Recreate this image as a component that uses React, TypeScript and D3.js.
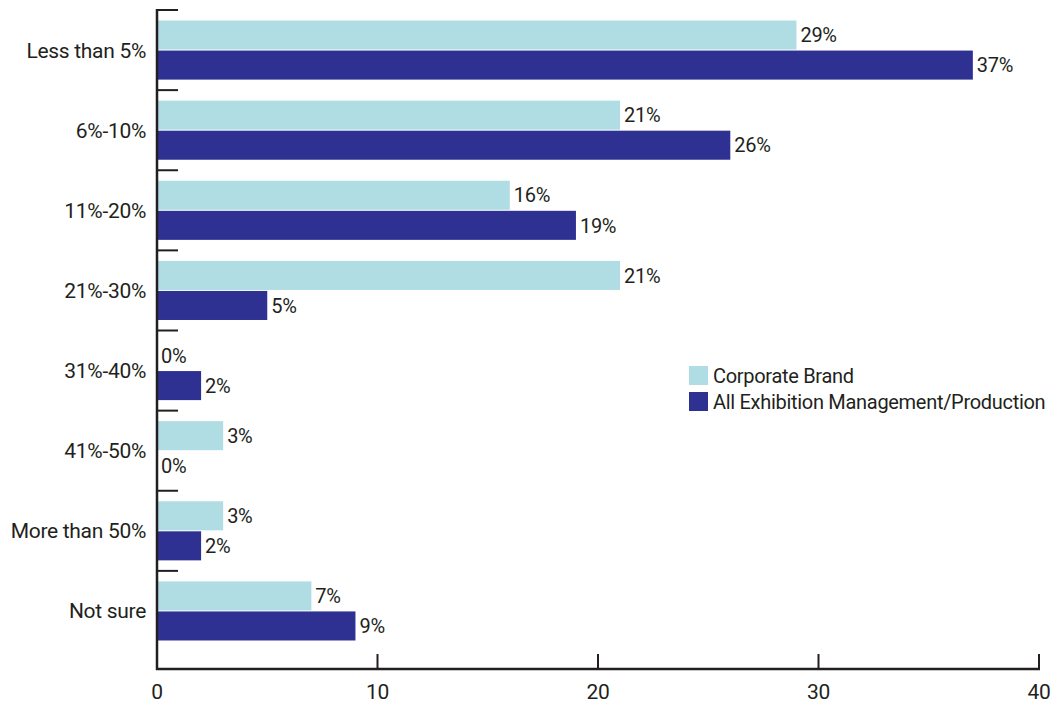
import React from "react";
import * as d3 from "d3";

const categories = ["Less than 5%", "6%-10%", "11%-20%", "21%-30%", "31%-40%", "41%-50%", "More than 50%", "Not sure"];
const corporateBrand = [29, 21, 16, 21, 0, 3, 3, 7];
const allExhibition = [37, 26, 19, 5, 2, 0, 2, 9];
const seriesNames = ["Corporate Brand", "All Exhibition Management/Production"];
const seriesColors = ["#b0dde3", "#2e3192"];
const xTicks = [0, 10, 20, 30, 40];

const W = 1056;
const H = 705;
const left = 157;
const right = 1039;
const top = 10;
const bandBottom = 651;
const axisY = 669;
const font = "'Liberation Sans Narrow', 'Arial Narrow', 'Roboto', sans-serif";

export default function App() {
  const x = d3.scaleLinear().domain([0, 40]).range([left, right]);
  const y = d3.scaleBand<string>().domain(categories).range([top, bandBottom]).paddingInner(0).paddingOuter(0);
  const inner = d3.scaleBand<number>().domain([0, 1]).range([0, y.bandwidth()]).paddingOuter(0.35).paddingInner(0.033);
  const series = [corporateBrand, allExhibition];
  const bw = inner.bandwidth();

  return (
    <svg width={W} height={H} style={{ position: "absolute", left: 0, top: 0 }} fontFamily={font} letterSpacing={-0.3}>
      <rect x={0} y={0} width={W} height={H} fill="#fff" />
      {categories.map((c, i) => (
        <g key={c}>
          {series.map((s, k) => (
            <g key={k}>
              <rect
                x={x(0)}
                y={(y(c) as number) + (inner(k) as number)}
                width={x(s[i]) - x(0)}
                height={bw}
                fill={seriesColors[k]}
              />
              <text
                x={x(s[i]) + 4}
                y={(y(c) as number) + (inner(k) as number) + bw / 2}
                dy="0.36em"
                fontSize={20}
                fill="#231f20"
              >
                {s[i]}%
              </text>
            </g>
          ))}
          <text
            x={146}
            y={(y(c) as number) + y.bandwidth() / 2}
            dy="0.36em"
            textAnchor="end"
            fontSize={21}
            fill="#231f20"
          >
            {c}
          </text>
          <line x1={left} x2={left + 21} y1={y(c) as number} y2={y(c) as number} stroke="#231f20" strokeWidth={2} />
        </g>
      ))}
      <line x1={left} x2={left} y1={top - 1} y2={axisY + 1} stroke="#231f20" strokeWidth={2.5} />
      <line x1={left - 1} x2={right + 1} y1={axisY} y2={axisY} stroke="#231f20" strokeWidth={2.5} />
      {xTicks.map((t) => (
        <g key={t}>
          <line x1={x(t)} x2={x(t)} y1={axisY} y2={axisY - 15} stroke="#231f20" strokeWidth={2} />
          <text x={x(t)} y={axisY + 22} dy="0.36em" textAnchor="middle" fontSize={21} fill="#231f20">
            {t}
          </text>
        </g>
      ))}
      {seriesNames.map((n, k) => (
        <g key={n} transform={`translate(689, ${366 + k * 26})`}>
          <rect x={0} y={0} width={19} height={19} fill={seriesColors[k]} />
          <text x={24} y={10} dy="0.36em" fontSize={20} fill="#231f20">
            {n}
          </text>
        </g>
      ))}
    </svg>
  );
}
